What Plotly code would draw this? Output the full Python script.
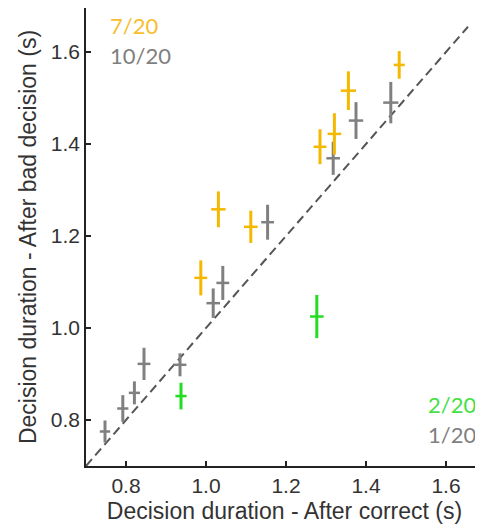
import plotly.graph_objects as go

# Data
yellow_x = [0.987, 1.031, 1.112, 1.285, 1.321, 1.356, 1.483]
yellow_y = [1.109, 1.258, 1.220, 1.394, 1.422, 1.516, 1.572]
yellow_ex = [0.016, 0.018, 0.017, 0.016, 0.017, 0.019, 0.014]
yellow_ey = [0.038, 0.039, 0.035, 0.038, 0.045, 0.042, 0.030]

gray_x = [0.7475, 0.792, 0.821, 0.845, 0.935, 1.018, 1.042, 1.154, 1.318, 1.375, 1.462]
gray_y = [0.775, 0.825, 0.859, 0.922, 0.920, 1.054, 1.098, 1.230, 1.369, 1.451, 1.490]
gray_ex = [0.013, 0.014, 0.014, 0.016, 0.016, 0.017, 0.016, 0.016, 0.017, 0.018, 0.019]
gray_ey = [0.024, 0.029, 0.025, 0.035, 0.025, 0.032, 0.037, 0.038, 0.036, 0.040, 0.045]

green_x = [0.9375, 1.277]
green_y = [0.852, 1.025]
green_ex = [0.014, 0.017]
green_ey = [0.029, 0.047]

diag = [0.7, 1.655]

tick_vals = [0.8, 1.0, 1.2, 1.4, 1.6]
tick_text = ["0.8", "1.0", "1.2", "1.4", "1.6"]

YELLOW = "#F5B800"
GRAY = "#808080"
GREEN = "#22DD22"

fig = go.Figure()

fig.add_trace(go.Scatter(x=diag, y=diag, mode="lines",
                         line=dict(color="#555555", width=2, dash="9px,5px"),
                         hoverinfo="skip", showlegend=False))

def add_cross(xs, ys, exs, eys, color):
    fig.add_trace(go.Scatter(
        x=xs, y=ys, mode="markers",
        marker=dict(size=1, opacity=0, color=color),
        error_x=dict(type="data", array=exs, visible=True, color=color, thickness=2.5, width=0),
        error_y=dict(type="data", array=eys, visible=True, color=color, thickness=3, width=0),
        showlegend=False))

add_cross(gray_x, gray_y, gray_ex, gray_ey, GRAY)
add_cross(yellow_x, yellow_y, yellow_ex, yellow_ey, YELLOW)
add_cross(green_x, green_y, green_ex, green_ey, GREEN)

axis_common = dict(
    showline=True, linecolor="#222222", linewidth=1.5,
    ticks="inside", ticklen=5, tickwidth=1.5, tickcolor="#222222",
    showgrid=False, zeroline=False,
    tickvals=tick_vals, ticktext=tick_text,
    tickfont=dict(family="Liberation Sans, Arial", size=21, color="#333333"),
    title_font=dict(family="Liberation Sans, Arial", size=23, color="#333333"),
)

fig.update_layout(
    width=475, height=521,
    margin=dict(l=78, r=0, t=0, b=63),
    paper_bgcolor="white", plot_bgcolor="white",
    xaxis=dict(range=[0.7, 1.6925], title=dict(text="Decision duration - After correct (s)", standoff=7),
               automargin=False, **axis_common),
    yaxis=dict(range=[0.7, 1.6957], title=dict(text="Decision duration - After bad decision (s)", standoff=8),
               automargin=False, **axis_common),
)

lab_font = "Lato, Open Sans, sans-serif"
fig.add_annotation(text="7/20", xref="paper", yref="paper", x=0.0554, y=0.9607,
                   xanchor="left", yanchor="middle", showarrow=False,
                   font=dict(family=lab_font, size=22, color="#F7BE2F"))
fig.add_annotation(text="10/20", xref="paper", yref="paper", x=0.0554, y=0.8952,
                   xanchor="left", yanchor="middle", showarrow=False,
                   font=dict(family=lab_font, size=22, color="#7F7F7F"))
fig.add_annotation(text="2/20", xref="paper", yref="paper", x=0.987, y=0.1332,
                   xanchor="right", yanchor="middle", showarrow=False,
                   font=dict(family=lab_font, size=22, color="#44E044"))
fig.add_annotation(text="1/20", xref="paper", yref="paper", x=0.987, y=0.0677,
                   xanchor="right", yanchor="middle", showarrow=False,
                   font=dict(family=lab_font, size=22, color="#7F7F7F"))

fig.write_html("out.html")
